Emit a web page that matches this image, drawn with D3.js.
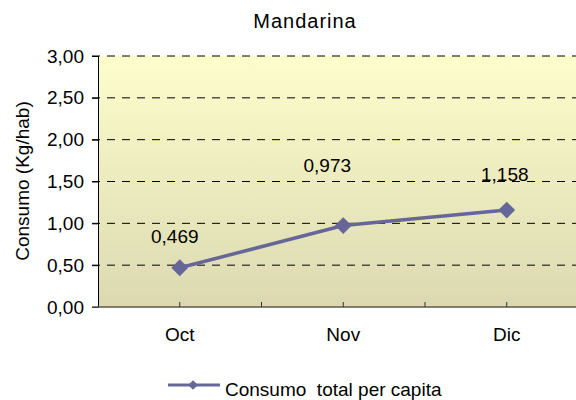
<!DOCTYPE html><meta charset="utf-8">
<style>*{margin:0}body{background:#fff}text{font-family:"Liberation Sans",Arial,sans-serif;fill:#000}</style>
<svg width="576" height="400"></svg>
<script src="https://d3js.org/d3.v7.min.js"></script>
<script>
const months = ["Oct","Nov","Dic"];
const consumo = [0.469, 0.973, 1.158];
const yTicks = [0,0.5,1,1.5,2,2.5,3];
const title = "Mandarina", yTitle = "Consumo (Kg/hab)", seriesName = "Consumo  total per capita";

const svg = d3.select("svg");
const mLeft = 98, mTop = 56, mBottom = 307, bandW = 163.5, fs = 19;
const x = d3.scaleBand().domain(months).range([mLeft, mLeft + bandW*months.length]);
const y = d3.scaleLinear().domain([0,3]).range([mBottom, mTop]);
const fmt = v => d3.format(".2f")(v).replace(".", ",");
const fmt3 = v => d3.format(".3f")(v).replace(".", ",");

const grad = svg.append("defs").append("linearGradient")
   .attr("id","bg").attr("x1",0).attr("y1",0).attr("x2",0).attr("y2",1);
grad.append("stop").attr("offset",0).attr("stop-color","#fdfdcc");
grad.append("stop").attr("offset",1).attr("stop-color","#dcd9b1");

svg.append("rect").attr("x",mLeft).attr("y",mTop)
   .attr("width",576-mLeft).attr("height",mBottom-mTop).attr("fill","url(#bg)");

// grid lines (dashed), incl. the little tick outside the axis
svg.selectAll("line.grid").data(yTicks.filter(d=>d>0)).join("line")
   .attr("class","grid")
   .attr("x1",mLeft-6).attr("x2",576)
   .attr("y1",d=>y(d)).attr("y2",d=>y(d))
   .attr("stroke","#000").attr("stroke-dasharray","8,7");

// y axis
const yAxis = svg.append("g").attr("transform",`translate(${mLeft},0)`)
   .call(d3.axisLeft(y).tickValues(yTicks).tickFormat(fmt).tickSize(6).tickPadding(8));
yAxis.select(".domain").attr("stroke","#000");
yAxis.selectAll("text").attr("font-size",fs).attr("fill","#000");

// x axis
const xAxis = svg.append("g").attr("transform",`translate(0,${mBottom})`)
   .call(d3.axisBottom(x).tickSize(0).tickPadding(21));
xAxis.select(".domain").remove();
xAxis.selectAll("text").attr("font-size",fs).attr("fill","#000");
svg.append("line").attr("x1",mLeft-6).attr("x2",576).attr("y1",mBottom).attr("y2",mBottom)
   .attr("stroke","#5a5a50").attr("stroke-width",1.5);
const halfTicks = d3.range(1, months.length*2).map(i => mLeft + i*bandW/2);
svg.selectAll("line.xt").data(halfTicks).join("line")
   .attr("x1",d=>d).attr("x2",d=>d).attr("y1",mBottom-5).attr("y2",mBottom)
   .attr("stroke","#333");

// series
const cx = d => x(d) + x.bandwidth()/2;
const pts = months.map((m,i)=>[cx(m), y(consumo[i])]);
svg.append("path").attr("d",d3.line()(pts))
   .attr("fill","none").attr("stroke","#666699").attr("stroke-width",3.5);
const diamond = d3.symbol().type(d3.symbolDiamond2).size(180);
svg.selectAll("path.pt").data(pts).join("path").attr("class","pt")
   .attr("transform",d=>`translate(${d[0]},${d[1]})`)
   .attr("d",diamond).attr("fill","#666699");

// data labels
const labOff = [[-5,-25],[-16,-54],[-2,-29]];
svg.selectAll("text.lab").data(consumo).join("text").attr("class","lab")
   .attr("x",(d,i)=>pts[i][0]+labOff[i][0]).attr("y",(d,i)=>pts[i][1]+labOff[i][1])
   .attr("text-anchor","middle").attr("font-size",fs).text(fmt3);

// titles
svg.append("text").attr("x",305).attr("y",28).attr("text-anchor","middle")
   .attr("font-size",20).attr("letter-spacing",1).text(title);
svg.append("text").attr("transform","translate(29,181) rotate(-90)")
   .attr("text-anchor","middle").attr("font-size",fs).text(yTitle);

// legend
const lg = svg.append("g").attr("transform","translate(168,385)");
lg.append("line").attr("x1",0).attr("x2",52).attr("stroke","#666699").attr("stroke-width",3);
lg.append("path").attr("transform","translate(25,0)")
   .attr("d",d3.symbol().type(d3.symbolDiamond2).size(60)).attr("fill","#666699");
lg.append("text").attr("x",57).attr("y",10.5).attr("font-size",fs)
   .style("white-space","pre").text(seriesName);
</script>
